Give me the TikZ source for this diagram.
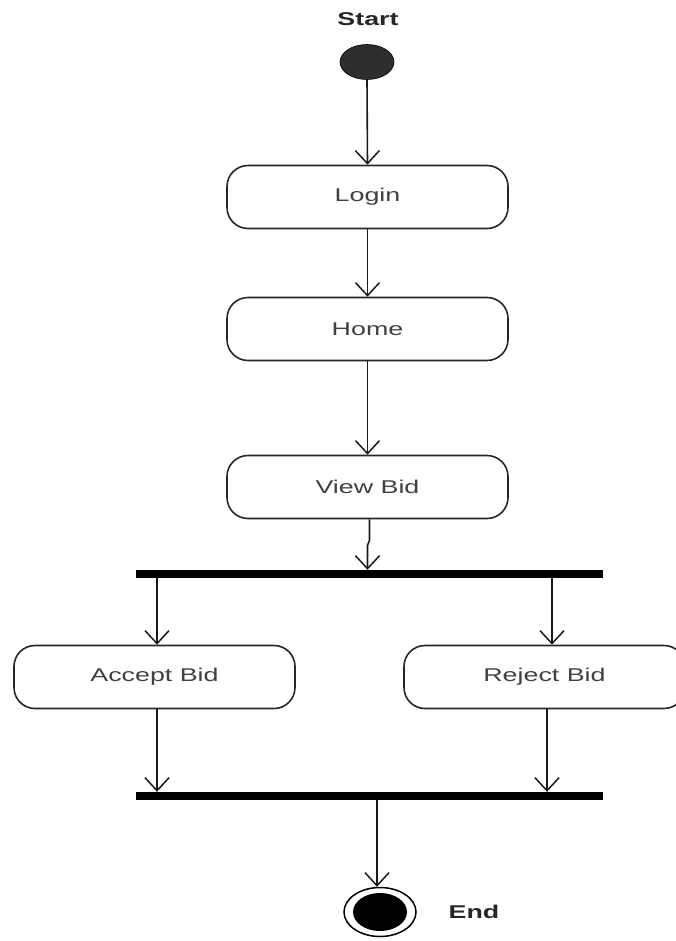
\documentclass[tikz,border=0pt]{standalone}
\usepackage{fontspec}
\setmainfont{Liberation Sans}[FakeStretch=1.45]
\usetikzlibrary{arrows.meta,shapes.geometric}

\tikzset{
  activity/.style={draw=black!85, line width=1.6pt, rounded corners=21pt,
    minimum width=281pt, minimum height=63pt, inner sep=0pt,
    font=\fontsize{18.5}{21}\selectfont, text=black!75},
  syncbar/.style={fill=black, draw=none, minimum width=467pt,
    minimum height=8pt, inner sep=0pt},
  arr/.style={line width=1.6pt, draw=black!90,
    -{Straight Barb[length=13pt,width=24pt,line width=1.5pt]}},
  lbl/.style={font=\bfseries\fontsize{18.5}{21}\selectfont, text=black!85}
}

\begin{document}
\begin{tikzpicture}[x=1pt,y=-1pt]
  \useasboundingbox (0,0) rectangle (675,941);

  % initial node
  \node[lbl] (startlbl) at (368,19) {Start};
  \node[ellipse, fill=black!82, draw=black, line width=0.6pt,
        minimum width=54pt, minimum height=35pt, inner sep=0pt] (start) at (367,62) {};

  % activities
  \node[activity] (login) at (367.5,197) {Login};
  \node[activity] (home)  at (367.5,329) {Home};
  \node[activity] (view)  at (367.5,487) {View Bid};
  \node[activity] (accept) at (154.5,677) {Accept Bid};
  \node[activity] (reject) at (544.5,677) {Reject Bid};

  % fork and join bars
  \node[syncbar] (fork) at (369.5,574) {};
  \node[syncbar] (join) at (369.5,796) {};

  % final node
  \node[ellipse, draw=black, line width=1.5pt, fill=white,
        minimum width=72pt, minimum height=49pt, inner sep=0pt] (final) at (380,912) {};
  \node[ellipse, fill=black, minimum width=54pt, minimum height=38pt,
        inner sep=0pt] (finaldot) at (final.center) {};
  \node[lbl] (endlbl) at (474,912) {End};

  % lanes for the branch connectors
  \coordinate (la) at (157,0);
  \coordinate (ra) at (552,0);
  \coordinate (lb) at (157,0);
  \coordinate (rb) at (547,0);
  \coordinate (jb) at (377,0);

  % flow
  \draw[arr] (start.south) -- (login.north);
  \draw[arr] (login.south) -- (home.north);
  \draw[arr] (home.south) -- (view.north);
  \draw[arr] ([xshift=2pt]view.south) -- ++(0,21) -- ++(-2,5) -- (fork.north -| view.south);

  \draw[arr] (fork.south -| la) -- (accept.north -| la);
  \draw[arr] (fork.south -| ra) -- (reject.north -| ra);
  \draw[arr] (accept.south -| lb) -- (join.north -| lb);
  \draw[arr] (reject.south -| rb) -- (join.north -| rb);
  \draw[arr] (join.south -| jb) -- (final.north -| jb);
\end{tikzpicture}
\end{document}
